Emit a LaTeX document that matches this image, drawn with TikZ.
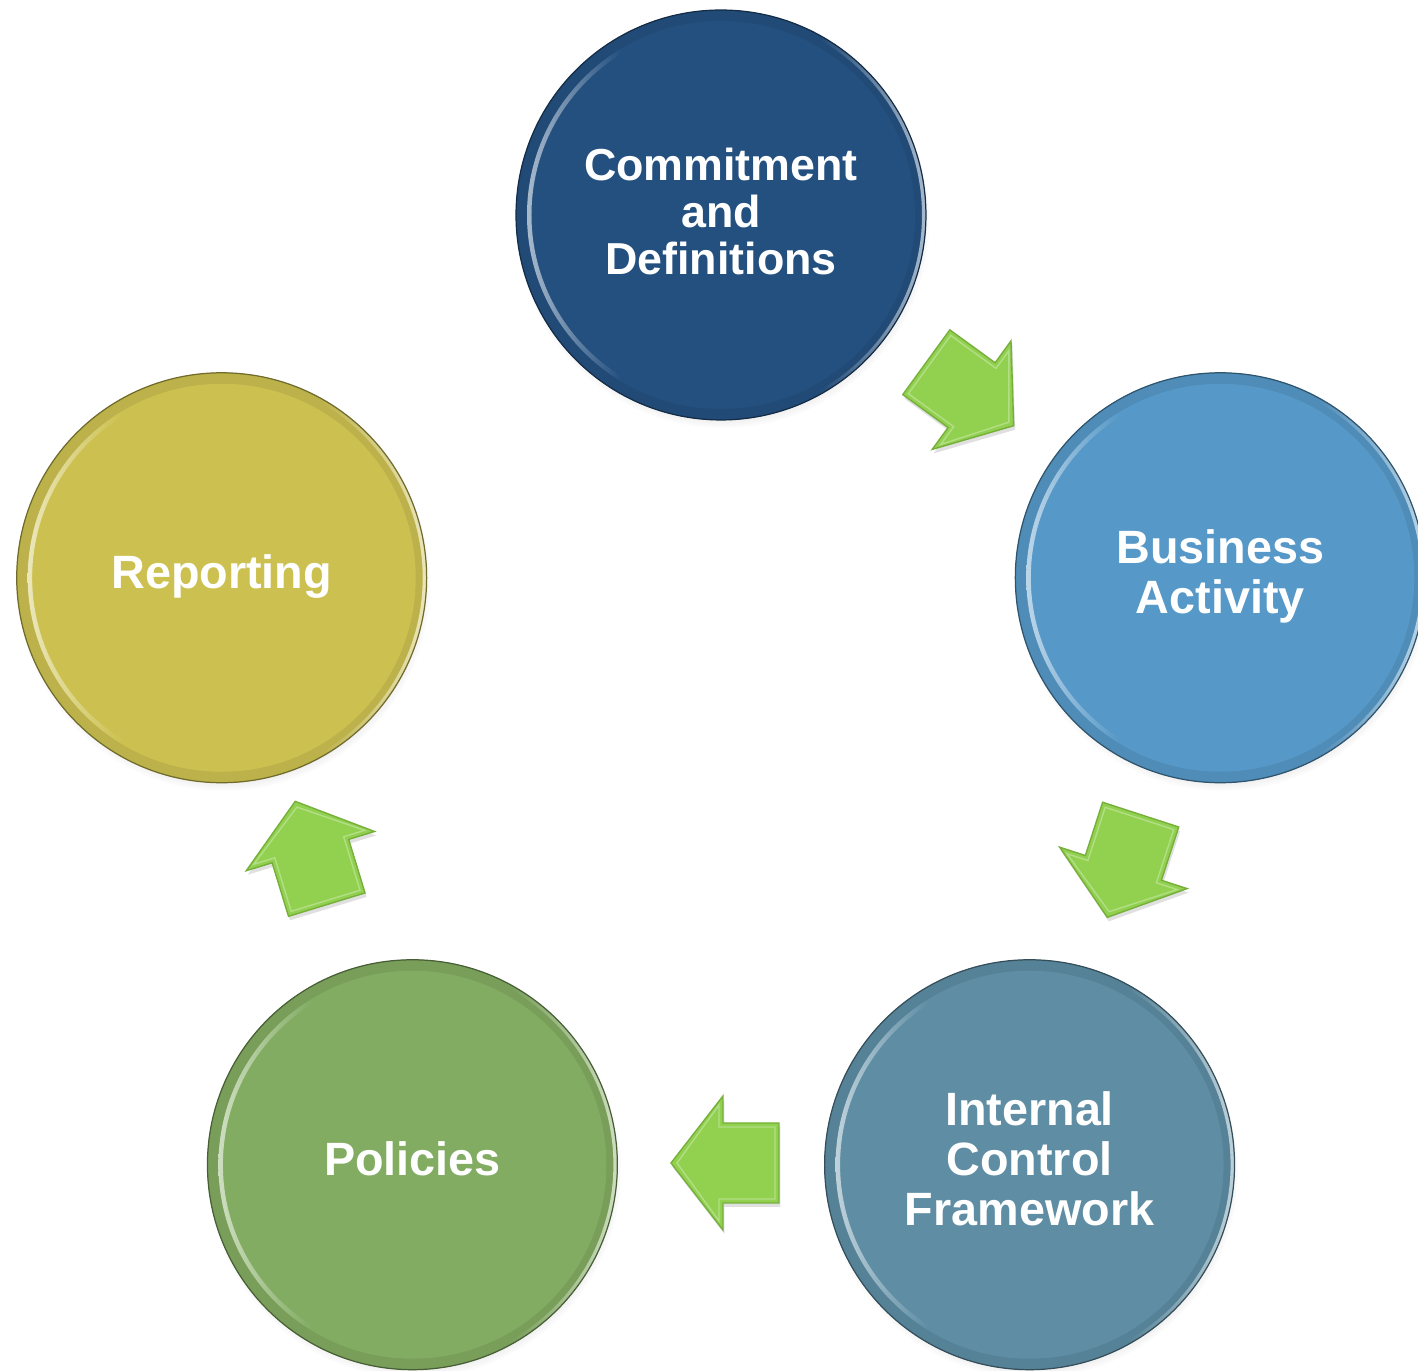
\documentclass[tikz,border=0pt]{standalone}
\usepackage{fontspec}
\setmainfont{Liberation Sans}
\usetikzlibrary{shadows}

\definecolor{cTop}{RGB}{36,80,128}
\definecolor{cRight}{RGB}{86,152,199}
\definecolor{cLow}{RGB}{94,141,164}
\definecolor{cGreen}{RGB}{130,172,98}
\definecolor{cYellow}{RGB}{204,193,80}
\definecolor{arrowgreen}{RGB}{146,208,80}
\definecolor{arrowedge}{RGB}{118,176,58}
\colorlet{rimlight}{white}
\colorlet{rimbase}{black}

% glints on the bevel: one fading in from the left, one from the right
\pgfdeclarehorizontalshading[rimlight,rimbase]{glowleft}{100bp}{%
  color(0bp)=(rimlight); color(25bp)=(rimlight); color(37bp)=(rimbase);
  color(100bp)=(rimbase)}
\pgfdeclarehorizontalshading[rimlight,rimbase]{glowright}{100bp}{%
  color(0bp)=(rimbase); color(62bp)=(rimbase); color(75bp)=(rimlight);
  color(100bp)=(rimlight)}

\tikzset{
  bubble/.style={
    circle, minimum size=8.2cm, inner sep=0pt, text=white,
    fill=#1, draw=#1!55!black, line width=0.7pt,
    font=\bfseries\fontsize{26.6}{28.3}\selectfont,
    circular drop shadow={shadow xshift=1pt, shadow yshift=-3.5pt,
      shadow scale=1.01, opacity=0.4},
    path picture={
      % outer bevel band
      \fill[even odd rule, #1!92!black]
        (path picture bounding box.center) circle (205) circle (192);
      % bright inner edge of the band on the left
      \colorlet{rimlight}{#1!40!white}\colorlet{rimbase}{#1}
      \path[even odd rule, shading=glowleft]
        (path picture bounding box.center) circle (194) circle (189.5);
      % bright outer edge on the right
      \colorlet{rimlight}{#1!40!white}\colorlet{rimbase}{#1!92!black}
      \path[even odd rule, shading=glowright]
        (path picture bounding box.center) circle (205) circle (201);
    }
  },
  arrowbody/.style={fill=arrowgreen, draw=arrowedge, line width=0.8pt,
    line join=miter},
  arrowshadow/.style={fill=black, opacity=0.12},
}

% several centred lines, optionally moved up or down inside their node
\newcommand\stacked[2][0cm]{\raisebox{#1}[\height][\depth]{%
  \begin{tabular}{@{}c@{}}#2\end{tabular}}}

% block arrow pointing along +x, centred on the given point
\newcommand\greenarrow[2]{%
  \begin{scope}[shift={(#1)}, shift={(1.5,-4)}, rotate=#2]
    \fill[arrowshadow] (-54,-40) -- (2,-40) -- (2,-67) -- (54,0)
      -- (2,67) -- (2,40) -- (-54,40) -- cycle;
  \end{scope}
  \begin{scope}[shift={(#1)}, rotate=#2]
    \path[arrowbody] (-54,-40) -- (2,-40) -- (2,-67) -- (54,0)
      -- (2,67) -- (2,40) -- (-54,40) -- cycle;
    \draw[white, opacity=0.3, line width=0.8pt]
      (-50,-36) -- (6,-36) -- (6,-58) -- (48,0)
      -- (6,58) -- (6,36) -- (-50,36) -- cycle;
  \end{scope}%
}

\begin{document}
\begin{tikzpicture}[x=0.02cm, y=0.02cm]
  \useasboundingbox (-721,-631) rectangle (697,740);

  \node[bubble=cTop, font=\bfseries\fontsize{25.5}{26.9}\selectfont]
    (commit) at (90:525) {\stacked[-0.06cm]{Commitment\\and\\Definitions}};
  \node[bubble=cRight] (business) at (18:525)
    {\stacked[-0.02cm]{Business\\Activity}};
  \node[bubble=cLow] (internal) at (-54:525)
    {\stacked[-0.02cm]{Internal\\Control\\Framework}};
  \node[bubble=cGreen] (policies) at (-126:525) {\stacked[-0.02cm]{Policies}};
  \node[bubble=cYellow] (reporting) at (162:525)
    {\stacked[-0.02cm]{Reporting}};

  \greenarrow{249,346}{-36}
  \greenarrow{403,-126}{-108}
  \greenarrow{4,-423}{180}
  \greenarrow{-410,-113}{107}
\end{tikzpicture}
\end{document}
